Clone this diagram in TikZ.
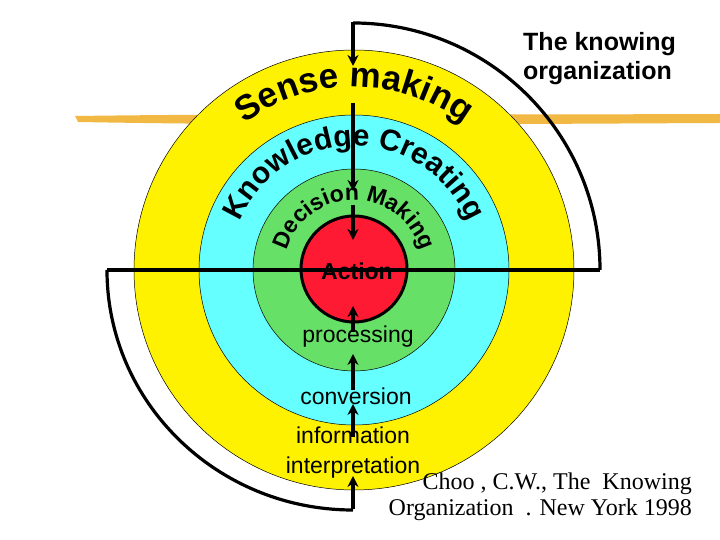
\documentclass[tikz,border=0pt]{standalone}
\usepackage{fontspec}
\setmainfont{Liberation Sans}
\newfontfamily\serifx{Liberation Serif}
\usetikzlibrary{decorations.text,arrows.meta}
\definecolor{cy}{HTML}{66FFFF}
\definecolor{gr}{HTML}{66E066}
\definecolor{rd}{HTML}{FF1A33}
\definecolor{br}{HTML}{F0B030}
\begin{document}
\begin{tikzpicture}[x=1pt,y=1pt,
  ring/.style={circle,draw=black,line width=0.5pt,inner sep=0pt},
  arr/.style={line width=3.5pt,-{Stealth[length=11pt,width=11pt]}},
  brk/.style={line width=3.2pt},
  lbl/.style={font=\fontsize{23}{26}\selectfont,inner sep=0pt}]
\useasboundingbox (0,0) rectangle (720,540);
\coordinate (C) at (354,270);
% brush stroke
\fill[br, opacity=0.9] (75,424) .. controls (300,427) and (500,425) .. (720,426) -- (720,417) .. controls (500,416) and (300,414) .. (78,418) -- cycle;
\node[ring,fill=yellow,minimum size=440pt] (Y) at (C) {};
\node[ring,fill=cy,minimum size=310pt] (B) at (C) {};
\node[ring,fill=gr,minimum size=202pt] (G) at (C) {};
\node[ring,fill=rd,line width=3pt,minimum size=106pt] (R) at (354,271) {};
% brackets
\draw[brk] (107,270) -- (600,270);
\draw[brk] (107,270) arc[start angle=180,end angle=270,x radius=246,y radius=240];
\draw[brk] (600,270) arc[start angle=0,end angle=90,x radius=247,y radius=247];
% curved texts
\path[decorate,decoration={text along path,text align=center,
  text={|\fontsize{35}{35}\selectfont\bfseries|Sense making}}]
  (C) ++(150:183) arc[start angle=150,end angle=30,radius=183];
\path[decorate,decoration={text along path,text align=center,
  text={|\fontsize{30}{30}\selectfont\bfseries|Knowledge Creating}}]
  (C) ++(175:124) arc[start angle=175,end angle=5,radius=124];
\path[decorate,decoration={text along path,text align=center,
  text={|\fontsize{23}{23}\selectfont\bfseries|Decision Making}}]
  (C) ++(178:70) arc[start angle=178,end angle=2,radius=70];
% labels
\node[lbl,font=\fontsize{23}{26}\selectfont\bfseries] (act) at (357,269) {Action};
\node[lbl] (proc) at (358,203) {processing};
\node[lbl] (conv) at (356,144) {conversion};
\node[lbl,align=center,font=\fontsize{23}{30}\selectfont] (info) at (353,87) {information\\interpretation};
\node[font=\fontsize{25}{29}\selectfont\bfseries,align=left,anchor=north west,inner sep=0pt] (tko) at (523,508) {The knowing\\organization};
\node[font=\serifx\fontsize{24}{26}\selectfont,align=right,anchor=north east,inner sep=0pt] (cit) at (692,67) {Choo , C.W., The \ Knowing\\Organization \ . New York 1998};
% top arrows
\coordinate (t0) at (353,518); \coordinate (t1) at (353,474);
\coordinate (t2) at (353,437); \coordinate (t3) at (353,390);
\coordinate (t5) at (353,349);
\coordinate (t6) at (353,335); \coordinate (t7) at (353,300);
\draw[arr] (t0) -- (t1);
\draw[line width=3.5pt] (t2) -- (t3);
\draw[arr] (t3) -- (t5);
\draw[arr] (t6) -- (t7);
% bottom arrows
\coordinate (b0) at (353,31); \coordinate (b1) at (353,64);
\coordinate (b2) at (353,103); \coordinate (b3) at (353,136);
\coordinate (b4) at (353,150); \coordinate (b5) at (353,186);
\coordinate (b6) at (353,208); \coordinate (b7) at (353,234);
\draw[arr] (b0) -- (b1);
\draw[arr] (b2) -- (b3);
\draw[arr] (b4) -- (b5);
\draw[arr] (b6) -- (b7);
\end{tikzpicture}
\end{document}
